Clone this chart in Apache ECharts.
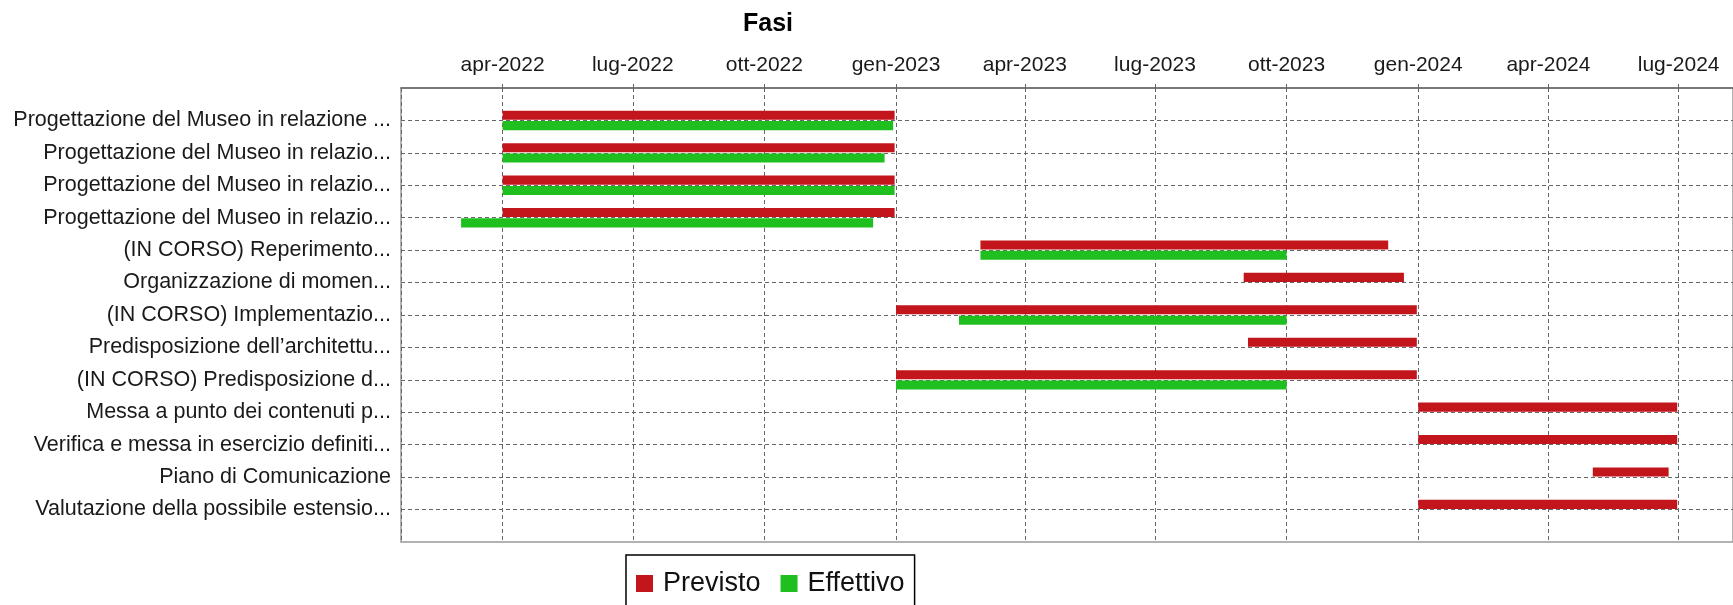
<!DOCTYPE html>
<html>
<head>
<meta charset="utf-8">
<script src="https://cdn.jsdelivr.net/npm/echarts@6/dist/echarts.min.js"></script>
<style>
  html, body { margin: 0; padding: 0; background: #fff; }
  #chart { width: 1733px; height: 605px; }
</style>
</head>
<body>
<div id="chart"></div>
<script>
// fasi del progetto (etichette tronche come nel grafico)
var categories = [
  'Progettazione del Museo in relazione ...',
  'Progettazione del Museo in relazio...',
  'Progettazione del Museo in relazio...',
  'Progettazione del Museo in relazio...',
  '(IN CORSO) Reperimento...',
  'Organizzazione di momen...',
  '(IN CORSO) Implementazio...',
  'Predisposizione dell\u2019architettu...',
  '(IN CORSO) Predisposizione d...',
  'Messa a punto dei contenuti p...',
  'Verifica e messa in esercizio definiti...',
  'Piano di Comunicazione',
  'Valutazione della possibile estensio...'
];

// Previsto
var previstoStart = ['2022-04-01', '2022-04-01', '2022-04-01', '2022-04-01', '2023-03-01', '2023-09-01', '2023-01-01', '2023-09-04', '2023-01-01', '2024-01-01', '2024-01-01', '2024-05-02', '2024-01-01'];
var previstoEnd   = ['2022-12-31', '2022-12-31', '2022-12-31', '2022-12-31', '2023-12-11', '2023-12-22', '2023-12-31', '2023-12-31', '2023-12-31', '2024-06-30', '2024-06-30', '2024-06-24', '2024-06-30'];

// Effettivo (null = non ancora iniziato)
var effettivoStart = ['2022-04-01', '2022-04-01', '2022-04-01', '2022-03-03', '2023-03-01', null, '2023-02-14', null, '2023-01-01', null, null, null, null];
var effettivoEnd   = ['2022-12-30', '2022-12-24', '2022-12-31', '2022-12-16', '2023-10-01', null, '2023-10-01', null, '2023-10-01', null, null, null, null];

// etichette dei tick
var mesi = ['gen', 'feb', 'mar', 'apr', 'mag', 'giu', 'lug', 'ago', 'set', 'ott', 'nov', 'dic'];
var asseMin = '2022-01-20';
var asseMax = '2024-08-08';

function ts(s) {
  var p = s.split('-');
  return new Date(+p[0], +p[1] - 1, +p[2]).getTime();
}

function buildData(starts, ends) {
  var out = [];
  for (var i = 0; i < categories.length; i++) {
    if (starts[i] == null) continue;
    out.push([i, ts(starts[i]), ts(ends[i])]);
  }
  return out;
}

function makeRender(offset, thick) {
  return function (params, api) {
    var row = api.value(0);
    var p0 = api.coord([api.value(1), row]);
    var p1 = api.coord([api.value(2), row]);
    var band = api.size([0, 1])[1];
    var cs = params.coordSys;
    var shape = echarts.graphic.clipRectByRect(
      { x: p0[0], y: p0[1] + band * offset, width: p1[0] - p0[0], height: band * thick },
      { x: cs.x, y: cs.y, width: cs.width, height: cs.height }
    );
    return shape && { type: 'rect', shape: shape, style: { fill: api.visual('color') } };
  };
}

var font = 'Liberation Sans, Arial, sans-serif';
var DAY = 24 * 3600 * 1000;

var myChart = echarts.init(document.getElementById('chart'));
var option = {
  animation: false,
  backgroundColor: '#fff',
  title: {
    text: 'Fasi',
    left: 738,
    top: 7,
    textStyle: { fontFamily: font, fontWeight: 'bold', fontSize: 25, color: '#000' }
  },
  legend: {
    data: ['Previsto', 'Effettivo'],
    left: 626,
    top: 555,
    icon: 'rect',
    itemWidth: 17,
    itemHeight: 17,
    itemGap: 20,
    padding: [15, 10, 15, 10],
    borderColor: '#000',
    borderWidth: 1.5,
    textStyle: { fontFamily: font, fontSize: 27, color: '#111', padding: [0, 0, 0, 5] }
  },
  grid: {
    left: 401,
    top: 88,
    right: 0,
    bottom: 63,
    show: true,
    backgroundColor: '#fff',
    borderColor: '#999',
    borderWidth: 1.5
  },
  xAxis: {
    type: 'time',
    position: 'top',
    min: ts(asseMin),
    max: ts(asseMax),
    splitNumber: 10,
    minInterval: 85 * DAY,
    maxInterval: 100 * DAY,
    axisLine: { show: true, onZero: false, lineStyle: { color: '#666', width: 1.5 } },
    axisTick: { show: true, length: 4, lineStyle: { color: '#666' } },
    axisLabel: {
      fontFamily: font,
      fontSize: 21,
      color: '#1a1a1a',
      margin: 12,
      formatter: function (v) {
        var d = new Date(v);
        return mesi[d.getMonth()] + '-' + d.getFullYear();
      }
    },
    splitLine: { show: true, lineStyle: { color: '#666', width: 1, type: [4, 3] } }
  },
  yAxis: {
    type: 'value',
    inverse: true,
    min: -1,
    max: 13,
    interval: 1,
    axisLine: { show: false },
    axisTick: { show: false },
    axisLabel: {
      fontFamily: font,
      fontSize: 21.5,
      color: '#1a1a1a',
      margin: 10,
      formatter: function (v) { return categories[v] || ''; }
    },
    splitLine: { show: true, showMinLine: false, showMaxLine: false, lineStyle: { color: '#666', width: 1, type: [4, 3] } }
  },
  series: [
    {
      name: 'Previsto',
      type: 'custom',
      renderItem: makeRender(-0.3, 0.28),
      itemStyle: { color: '#c3161c' },
      encode: { x: [1, 2], y: 0 },
      data: buildData(previstoStart, previstoEnd)
    },
    {
      name: 'Effettivo',
      type: 'custom',
      renderItem: makeRender(0.02, 0.28),
      itemStyle: { color: '#1fbf1f' },
      encode: { x: [1, 2], y: 0 },
      data: buildData(effettivoStart, effettivoEnd)
    }
  ]
};
myChart.setOption(option, true);
window.onresize = function () { myChart.resize(); };
</script>
</body>
</html>
